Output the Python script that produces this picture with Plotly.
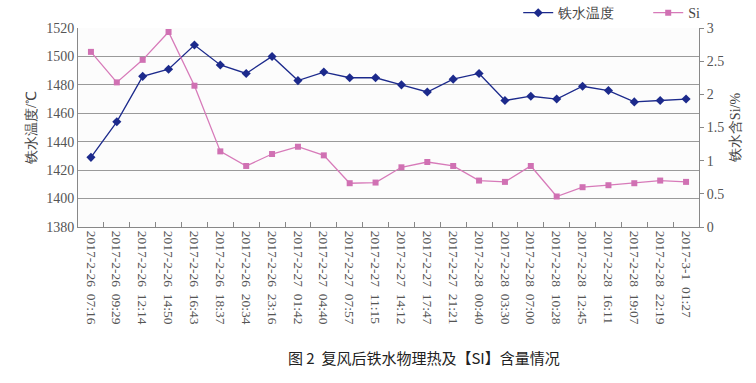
import plotly.graph_objects as go

times = ["2017-2-26 07:16", "2017-2-26 09:29", "2017-2-26 12:14", "2017-2-26 14:50",
         "2017-2-26 16:43", "2017-2-26 18:37", "2017-2-26 20:34", "2017-2-26 23:16",
         "2017-2-27 01:42", "2017-2-27 04:40", "2017-2-27 07:57", "2017-2-27 11:15",
         "2017-2-27 14:12", "2017-2-27 17:47", "2017-2-27 21:21", "2017-2-28 00:40",
         "2017-2-28 03:30", "2017-2-28 07:00", "2017-2-28 10:28", "2017-2-28 12:45",
         "2017-2-28 16:11", "2017-2-28 19:07", "2017-2-28 22:19", "2017-3-1 01:27"]
temp = [1429, 1454, 1486, 1491, 1508, 1494, 1488, 1500, 1483, 1489, 1485, 1485,
        1480, 1475, 1484, 1488, 1469, 1472, 1470, 1479, 1476, 1468, 1469, 1470]
si = [2.64, 2.18, 2.52, 2.94, 2.13, 1.14, 0.92, 1.10, 1.21, 1.08, 0.66, 0.67,
      0.90, 0.98, 0.92, 0.70, 0.68, 0.92, 0.46, 0.60, 0.63, 0.66, 0.70, 0.68]

serif = "'Times New Roman', 'Liberation Serif', serif"
labels = [t.replace(" ", "\u2002") for t in times]

fig = go.Figure()
fig.add_trace(go.Scatter(x=labels, y=temp, name="铁水温度\u2003\u2003", mode="lines+markers",
                         line=dict(color="#1c2a8c", width=1.3),
                         marker=dict(symbol="diamond", size=7, color="#1c2a8c")))
fig.add_trace(go.Scatter(x=labels, y=si, name="Si", mode="lines+markers", yaxis="y2",
                         line=dict(color="#d77ab9", width=1.3),
                         marker=dict(symbol="square", size=6, color="#d071b3")))

fig.update_layout(
    width=756, height=383,
    margin=dict(l=78, r=57, t=28, b=156, autoexpand=False),
    paper_bgcolor="white", plot_bgcolor="#fcfcfc",
    font=dict(family=serif, color="#555555", size=12),
    showlegend=True,
    legend=dict(orientation="h", x=1.01, xanchor="right", y=1.075, yanchor="middle",
                font=dict(family=serif, size=14, color="#444444"),
                bgcolor="rgba(0,0,0,0)", itemwidth=30, tracegroupgap=0),
    xaxis=dict(type="category", tickangle=90, tickson="boundaries", ticks="inside",
               ticklen=5, tickcolor="#888888", showline=True, linecolor="#888888",
               showgrid=False, tickfont=dict(family=serif, size=13.5, color="#555555"),
               range=[-0.5, len(times) - 0.5]),
    yaxis=dict(range=[1380, 1520], dtick=20, showgrid=True, gridcolor="#9a9a9a",
               showline=True, linecolor="#888888", ticks="", zeroline=False,
               tickfont=dict(family=serif, size=14, color="#555555"),
               title=dict(text="铁水温度/℃", font=dict(family=serif, size=14, color="#444444"), standoff=6)),
    yaxis2=dict(range=[0, 3], dtick=0.5, overlaying="y", side="right", showgrid=False,
                showline=True, linecolor="#888888", ticks="outside", ticklen=4,
                tickcolor="#888888", zeroline=False,
                tickfont=dict(family=serif, size=14, color="#555555"),
                title=dict(text="铁水含Si/%", font=dict(family=serif, size=14, color="#444444"), standoff=6)),
    annotations=[dict(text="图 2  复风后铁水物理热及【SI】含量情况", xref="paper", yref="paper",
                      x=(424 - 78) / 621, y=-(357 - 227) / 199, xanchor="center", yanchor="middle",
                      showarrow=False, font=dict(family="Noto Sans CJK SC", size=15, color="#222222"))],
)
fig.write_html("out.html", config={"displayModeBar": False},
               post_script="document.body.style.margin='0';document.body.style.overflow='hidden';")
